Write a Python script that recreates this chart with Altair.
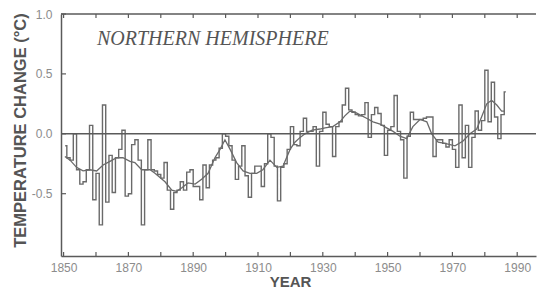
import altair as alt
import pandas as pd

# ---- data ----
years = list(range(1850, 1987))
annual = [
    -0.10, -0.20, -0.22, 0.00, -0.30, -0.42, -0.40, -0.30, 0.07, -0.55,
    -0.33, -0.76, 0.24, -0.57, -0.18, -0.49, -0.20, -0.13, 0.03, -0.52,
    -0.50, -0.09, -0.05, -0.22, -0.76, -0.30, -0.05, -0.30, -0.31, -0.34,
    -0.37, -0.24, -0.47, -0.63, -0.49, -0.47, -0.40, -0.47, -0.32, -0.30,
    -0.44, -0.44, -0.55, -0.26, -0.45, -0.26, -0.22, -0.20, -0.12, 0.00,
    -0.02, -0.10, -0.22, -0.38, -0.27, -0.10, -0.35, -0.53, -0.33, -0.27,
    -0.27, -0.44, -0.25, 0.00, -0.03, -0.27, -0.56, -0.28, -0.25, -0.13,
    0.06, -0.09, -0.10, 0.02, 0.13, 0.02, 0.02, 0.06, -0.27, 0.02,
    0.18, 0.08, 0.06, -0.19, 0.06, 0.10, 0.24, 0.38, 0.20, 0.18,
    0.16, 0.15, 0.16, 0.26, -0.03, 0.16, 0.22, 0.17, 0.07, -0.18,
    0.03, 0.06, 0.32, 0.02, -0.05, -0.37, -0.02, 0.18, 0.12, 0.12,
    0.12, 0.13, 0.14, 0.14, -0.19, -0.05, -0.05, -0.08, -0.11, -0.05,
    -0.13, -0.28, 0.24, -0.20, 0.07, -0.28, -0.03, 0.19, 0.03, 0.11,
    0.53, 0.10, 0.43, 0.14, -0.04, 0.16, 0.35,
]
smooth_years = [
    1850.4, 1852.0, 1854.0, 1856.0, 1858.1, 1860.2, 1862.2, 1864.3, 1866.4, 1868.3,
    1870.5, 1872.0, 1874.1, 1876.7, 1878.2, 1881.3, 1883.4, 1884.9, 1886.5, 1888.4,
    1890.6, 1892.6, 1894.6, 1896.7, 1898.3, 1899.8, 1901.4, 1903.4, 1905.4, 1907.5,
    1909.6, 1911.5, 1913.7, 1915.8, 1917.7, 1919.9, 1921.4, 1923.0, 1924.5, 1926.7,
    1929.1, 1930.7, 1933.1, 1935.3, 1936.8, 1938.4, 1939.9, 1942.1, 1943.5, 1945.5,
    1947.7, 1949.7, 1951.7, 1953.8, 1955.9, 1957.8, 1960.0, 1962.1, 1963.6, 1965.6,
    1967.7, 1970.8, 1973.3, 1975.4, 1977.5, 1979.0, 1980.6, 1982.1, 1983.7, 1985.2,
    1986.2,
]
smooth_vals = [
    -0.19, -0.22, -0.28, -0.31, -0.30, -0.31, -0.26, -0.23, -0.20, -0.20,
    -0.23, -0.24, -0.30, -0.30, -0.33, -0.40, -0.47, -0.48, -0.45, -0.41,
    -0.42, -0.38, -0.33, -0.20, -0.13, -0.05, -0.13, -0.24, -0.31, -0.33,
    -0.33, -0.30, -0.22, -0.28, -0.27, -0.13, -0.07, -0.03, 0.00, 0.03,
    0.04, 0.05, 0.06, 0.10, 0.15, 0.19, 0.18, 0.15, 0.13, 0.10,
    0.08, 0.05, 0.02, -0.02, -0.04, 0.06, 0.12, 0.10, 0.00, -0.07,
    -0.08, -0.10, -0.06, 0.00, 0.04, 0.14, 0.25, 0.28, 0.24, 0.19,
    0.19,
]
x_tick_years = [1850, 1860, 1870, 1880, 1890, 1900, 1910, 1920, 1930, 1940,
                1950, 1960, 1970, 1980, 1990]
x_label_years = [1850, 1870, 1890, 1910, 1930, 1950, 1970, 1990]
y_tick_vals = [1.0, 0.5, 0.0, -0.5]
y_label_vals = [1.0, 0.5, 0.0, -0.5]
zero_line = [0.0]
panel_title = "NORTHERN HEMISPHERE"
x_title = "YEAR"
y_title = "TEMPERATURE CHANGE (°C)"

# ---- styling ----
W, H = 475, 242
LINE = "#6a6a6a"
AXIS = "#5a5a5a"
LABEL = "#8c8c8c"
TITLE = "#555555"
SANS = "Liberation Sans"

xs = alt.Scale(domain=[1849.2, 1995.8], nice=False, zero=False)
ys = alt.Scale(domain=[-1.02, 1.0], nice=False, zero=False)

annual_df = pd.DataFrame({"year": years, "temp": annual})
smooth_df = pd.DataFrame({"year": smooth_years, "temp": smooth_vals})
xt_df = pd.DataFrame({"year": x_tick_years})
yt_df = pd.DataFrame({"temp": y_tick_vals})
zero_df = pd.DataFrame({"temp": zero_line})
title_df = pd.DataFrame({"t": [panel_title]})

x_axis = alt.Axis(
    values=x_label_years, format="d", ticks=False, grid=False,
    domain=True, domainColor=AXIS, domainWidth=1.5,
    labelColor=LABEL, labelFont=SANS, labelFontSize=12, labelPadding=6,
    labelFlush=False,
    title=x_title, titleFont=SANS, titleFontSize=15, titleFontWeight="bold",
    titleColor=TITLE, titleX=229, titleY=30, titleBaseline="alphabetic",
)
y_axis = alt.Axis(
    values=y_label_vals, ticks=False, grid=False,
    labelExpr="datum.value < 0 ? '-' + format(-datum.value, '.1f') : format(datum.value, '.1f')",
    domain=True, domainColor=AXIS, domainWidth=1.5,
    labelColor=LABEL, labelFont=SANS, labelFontSize=12, labelPadding=9,
    title=y_title, titleFont=SANS, titleFontSize=16.5, titleFontWeight="bold",
    titleColor=TITLE, titleX=-36, titleY=116, titleAlign="center",
    titleBaseline="alphabetic", titleAngle=270,
)


def X(field):
    return alt.X(field, scale=xs, axis=x_axis, title=x_title)


def Y(field):
    return alt.Y(field, scale=ys, axis=y_axis, title=y_title)


annual_line = alt.Chart(annual_df).transform_calculate(
    xc="datum.year + 0.5"
).mark_line(interpolate="step", color=LINE, strokeWidth=1.4).encode(
    x=X("xc:Q"),
    y=Y("temp:Q"),
)

smooth_line = alt.Chart(smooth_df).mark_line(color=LINE, strokeWidth=1.3).encode(
    x=X("year:Q"),
    y=Y("temp:Q"),
)

zero_rule = alt.Chart(zero_df).mark_rule(color=AXIS, strokeWidth=1.5).encode(
    y=Y("temp:Q"),
)

top_frame = alt.Chart(zero_df).mark_rule(color=AXIS, strokeWidth=1.5).encode(
    x=alt.value(0), x2=alt.value(W), y=alt.value(0),
)

bottom_ticks = alt.Chart(xt_df).mark_rule(color=AXIS, strokeWidth=1.2).encode(
    x=X("year:Q"), y=alt.value(H), y2=alt.value(H - 4),
)
top_ticks = alt.Chart(xt_df).mark_rule(color=AXIS, strokeWidth=1.2).encode(
    x=X("year:Q"), y=alt.value(0), y2=alt.value(4),
)
left_ticks = alt.Chart(yt_df).mark_rule(color=AXIS, strokeWidth=1.2).encode(
    y=Y("temp:Q"), x=alt.value(0), x2=alt.value(5),
)

panel_text = alt.Chart(title_df).mark_text(
    align="left", baseline="alphabetic", font="Liberation Serif",
    fontStyle="italic", fontSize=20, color=TITLE,
).encode(x=alt.value(36), y=alt.value(31), text="t:N")

chart = alt.layer(
    annual_line, smooth_line, zero_rule, top_frame,
    bottom_ticks, top_ticks, left_ticks, panel_text,
).properties(
    width=W, height=H,
    autosize=alt.AutoSizeParams(type="none"),
    padding={"left": 53, "top": 6, "right": 2, "bottom": 35},
    background="white",
).configure_view(stroke=None)

chart.save("out.html", embed_options={"renderer": "svg", "actions": False})
